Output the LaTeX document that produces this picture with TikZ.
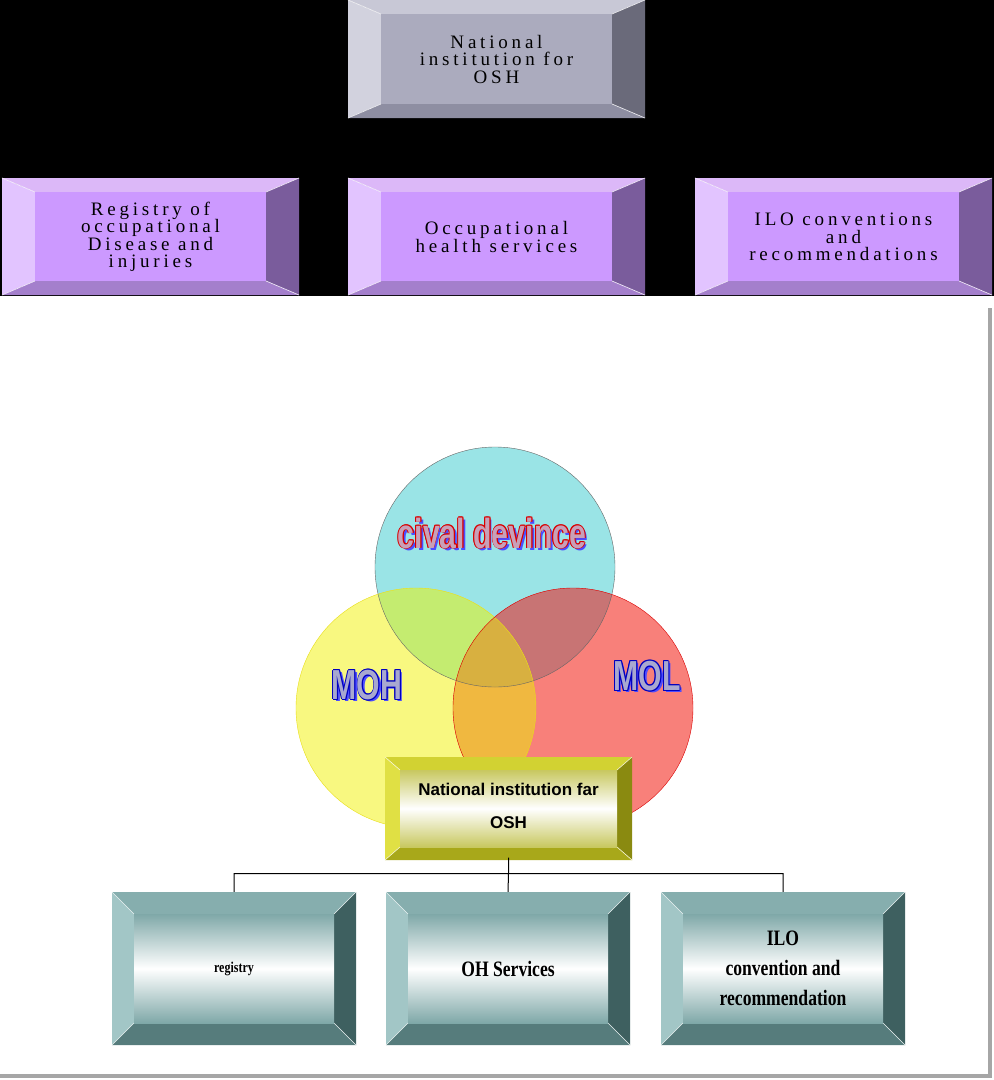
\documentclass[tikz,border=0pt]{standalone}
\usepackage{fontspec}
\setmainfont{Liberation Serif}
\newfontfamily\topfont[LetterSpace=20]{Liberation Serif}
\newfontfamily\condserif[FakeStretch=0.8]{Liberation Serif}
\newfontfamily\condsans[FakeStretch=0.72]{Liberation Sans}
\newfontfamily\plainsans{Liberation Sans}
\definecolor{gT}{HTML}{C8C8D6}\definecolor{gL}{HTML}{D2D2DE}\definecolor{gR}{HTML}{6A6A7A}\definecolor{gB}{HTML}{8E8EA2}\definecolor{gF}{HTML}{ABABBE}
\definecolor{pT}{HTML}{DCB8F8}\definecolor{pL}{HTML}{E2C4FF}\definecolor{pR}{HTML}{7A5C9C}\definecolor{pB}{HTML}{A47FCC}\definecolor{pF}{HTML}{CC99FF}
\definecolor{yT}{HTML}{D2D232}\definecolor{yL}{HTML}{E0E044}\definecolor{yR}{HTML}{8A8A10}\definecolor{yB}{HTML}{A8A81A}\definecolor{yF}{HTML}{C8C860}
\definecolor{tT}{HTML}{86AEAE}\definecolor{tL}{HTML}{A2C6C6}\definecolor{tR}{HTML}{3E6060}\definecolor{tB}{HTML}{567C7C}\definecolor{tF}{HTML}{7FA8A8}
\definecolor{vC}{HTML}{9AE4E6}\definecolor{vY}{HTML}{F8F880}\definecolor{vR}{HTML}{F8807A}
\definecolor{vCY}{HTML}{C4EC70}\definecolor{vCR}{HTML}{C87474}\definecolor{vYR}{HTML}{F0B840}\definecolor{vAll}{HTML}{D8B040}
\definecolor{cdF}{HTML}{C8A0B8}\definecolor{mF}{HTML}{A8A8D0}
\newcommand\bvl[7]{%
 \fill[#7T] (#1,#2)--(#3,#2)--(#3-#5,#2+#6)--(#1+#5,#2+#6)--cycle;
 \fill[#7L] (#1,#2)--(#1+#5,#2+#6)--(#1+#5,#4-#6)--(#1,#4)--cycle;
 \fill[#7R] (#3,#2)--(#3,#4)--(#3-#5,#4-#6)--(#3-#5,#2+#6)--cycle;
 \fill[#7B] (#1,#4)--(#1+#5,#4-#6)--(#3-#5,#4-#6)--(#3,#4)--cycle;
 \draw[white!80!#7T,line width=0.6pt] (#1,#2)--(#1+#5,#2+#6) (#3,#2)--(#3-#5,#2+#6) (#1,#4)--(#1+#5,#4-#6) (#3,#4)--(#3-#5,#4-#6);
}
\newcommand\outl[5]{%
 \node[text=blue!70!white] at ($#2+(2.5,2.5)$) {#3};
 \foreach \dx/\dy in {-0.9/0,0.9/0,0/-0.9,0/0.9,-0.7/-0.7,0.7/0.7,-0.7/0.7,0.7/-0.7}
   \node[text=#4] at ($#2+(\dx,\dy)$) {#3};
 \node[text=#5] (#1) at #2 {#3};
}
\usetikzlibrary{calc}
\begin{document}
\begin{tikzpicture}[x=1pt,y=-1pt,
  toptxt/.style={font=\topfont\fontsize{19}{17.5}\selectfont,align=center,text=black},
  tealtxt/.style={font=\condserif\bfseries\fontsize{22}{30}\selectfont,align=center},
  boxnode/.style={inner sep=0pt,rectangle}]
\useasboundingbox (0,0) rectangle (994,1080);
\fill[white] (0,0) rectangle (994,1080);
\fill[black] (0,0) rectangle (994,296);
\bvl{348}{0}{645}{118}{33}{14}{g}
\fill[gF] (381,14) rectangle (612,104);
\node[toptxt] (nat) at (496.5,59) {National\\institution for\\OSH};
\foreach \x/\n/\t in {2/reg/{Registry of\\occupational\\Disease and\\injuries},348/ohs/{Occupational\\health services},695/ilo/{ILO conventions\\and\\recommendations}}{
  \bvl{\x}{178}{\x+297}{295}{33}{14}{p}
  \fill[pF] (\x+33,192) rectangle (\x+264,281);
  \node[toptxt] (\n) at (\x+148.5,237) {\t};
}
\draw[gray!70,line width=3.5pt] (990,308) -- (990,1076) -- (0,1076);
% Venn
\fill[vC] (495,567) circle (120);
\fill[vY] (416,708) circle (120);
\fill[vR] (573,708) circle (120);
\begin{scope}\clip (495,567) circle (120); \fill[vCY] (416,708) circle (120); \fill[vCR] (573,708) circle (120); \end{scope}
\begin{scope}\clip (416,708) circle (120); \fill[vYR] (573,708) circle (120);
  \clip (573,708) circle (120); \fill[vAll] (495,567) circle (120); \end{scope}
\draw[black!60] (495,567) circle (120);
\draw[yellow!90!black] (416,708) circle (120);
\draw[red!85!black] (573,708) circle (120);
\begin{scope}[font=\condsans\bfseries\fontsize{42}{42}\selectfont]
\outl{cd}{(492,533)}{cival devince}{red!85!black}{cdF}
\outl{moh}{(367,685)}{MOH}{blue!75!black}{mF}
\outl{mol}{(647,676)}{MOL}{blue!75!black}{mF}
\end{scope}
% yellow box
\bvl{385}{757}{632}{860}{15}{13}{y}
\shade[shading angle=45,top color=yF,bottom color=yF,middle color=white] (400,770) rectangle (617,847);
\node[boxnode,minimum width=247pt,minimum height=103pt,align=center,font=\plainsans\bfseries\fontsize{17}{33}\selectfont] (nif) at (508.5,806) {National institution far\\OSH};
% teal boxes
\foreach \x/\n/\t/\f in {112/t1/registry/{\fontsize{15}{16}\selectfont},386/t2/OH Services/{},661/t3/{ILO\\convention and\\recommendation}/{}}{
  \bvl{\x}{892}{\x+244}{1045}{22}{22}{t}
  \shade[shading angle=45,top color=tF,bottom color=tF,middle color=white] (\x+22,914) rectangle (\x+222,1023);
  \node[boxnode,minimum width=244pt,minimum height=153pt,tealtxt] (\n) at (\x+122,968.5) {\f\t};
}
\draw[black,line width=1pt] (nif.south) -- ++(0,16) coordinate (j) (t1.north) |- (j) -| (t3.north) (j) -- (t2.north);
\end{tikzpicture}
\end{document}
